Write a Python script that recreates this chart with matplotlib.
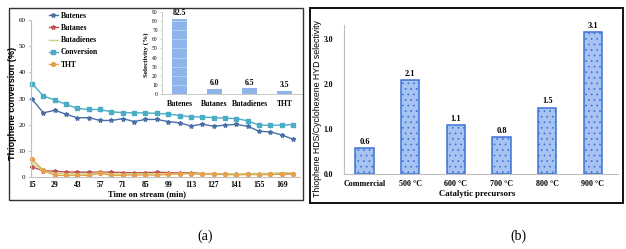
import matplotlib
matplotlib.use("Agg")
import matplotlib.pyplot as plt
from matplotlib.patches import Rectangle

# ---------------- data ----------------
time_min = [15, 22, 29, 36, 43, 50, 57, 64, 71, 78, 85, 92, 99, 106, 113, 120,
            127, 134, 141, 148, 155, 162, 169, 176]
time_ticks = [15, 29, 43, 57, 71, 85, 99, 113, 127, 141, 155, 169]
butenes = [29.8, 24.5, 25.5, 24.0, 22.6, 22.7, 21.6, 21.6, 22.3, 21.2, 22.0, 22.0,
           21.2, 20.7, 19.5, 20.2, 19.4, 19.8, 20.1, 19.4, 17.5, 17.2, 16.1, 14.4]
butanes = [3.8, 2.4, 2.2, 1.9, 1.9, 1.8, 1.9, 1.8, 1.7, 1.6, 1.7, 1.8,
           1.7, 1.5, 1.7, 1.3, 1.3, 1.2, 1.2, 1.1, 1.0, 1.0, 1.1, 1.2]
butadienes = [5.2, 2.3, 1.4, 1.3, 1.2, 1.2, 1.6, 1.2, 1.1, 1.2, 1.2, 1.3,
              1.2, 1.3, 1.4, 1.2, 1.3, 1.2, 1.3, 1.3, 1.4, 1.4, 1.7, 1.6]
conversion = [35.7, 31.0, 29.4, 27.8, 26.2, 25.8, 25.8, 24.9, 24.6, 24.5, 24.5, 24.3,
              24.1, 23.5, 23.0, 22.9, 22.7, 22.5, 22.3, 21.5, 19.8, 19.8, 19.8, 20.0]
tht = [6.8, 2.5, 0.7, 0.6, 0.7, 0.6, 1.5, 0.6, 0.7, 0.8, 0.8, 0.7,
       1.0, 1.2, 1.3, 1.0, 1.2, 1.0, 0.8, 1.0, 0.9, 1.0, 1.1, 1.2]

sel_products = ["Butenes", "Butanes", "Butadienes", "THT"]
sel_values = [82.5, 6.0, 6.5, 3.5]
sel_labels = ["82.5", "6.0", "6.5", "3.5"]

precursors = ["Commercial", "500 °C", "600 °C", "700 °C", "800 °C", "900 °C"]
ratio_values = [0.57, 2.08, 1.08, 0.81, 1.47, 3.15]
ratio_labels = ["0.6", "2.1", "1.1", "0.8", "1.5", "3.1"]

# ---------------- figure ----------------
plt.rcParams["hatch.color"] = "#c4d6f5"
plt.rcParams["hatch.linewidth"] = 0.5

W, H = 626, 249
fig = plt.figure(figsize=(W / 100, H / 100), dpi=100)
fig.patch.set_facecolor("white")

def rect(x0, y0, x1, y1):
    """pixel box (top-left origin) -> figure fraction rect"""
    return [x0 / W, 1 - y1 / H, (x1 - x0) / W, (y1 - y0) / H]

SERIF = ["Liberation Serif", "DejaVu Serif"]
SANS = ["Liberation Sans", "DejaVu Sans"]
GRAY = "#bfbfbf"

# frames
fig.add_artist(Rectangle((9 / W, 1 - 200 / H), (303 - 9) / W, (200 - 8) / H,
                         transform=fig.transFigure, fill=False, ec="#333333", lw=1.0))
fig.add_artist(Rectangle((310 / W, 1 - 203 / H), (623 - 310) / W, (203 - 8) / H,
                         transform=fig.transFigure, fill=False, ec="#111111", lw=1.4))

# ---------------- left main axes ----------------
ax = fig.add_axes(rect(31, 20, 300, 177))
ax.set_facecolor("none")
ax.plot(time_min, butenes, color="#4a6fa5", lw=1.0, marker="*", ms=3.2, label="Butenes", clip_on=False)
ax.plot(time_min, butanes, color="#c0504d", lw=1.0, marker="*", ms=3.2, label="Butanes", clip_on=False)
ax.plot(time_min, butadienes, color="#c6d98c", lw=1.0, marker="_", ms=3.5, label="Butadienes", clip_on=False)
ax.plot(time_min, conversion, color="#4bacc6", lw=1.0, marker="s", ms=3.2, label="Conversion", clip_on=False)
ax.plot(time_min, tht, color="#e6a04a", lw=1.0, marker="o", ms=2.8, label="THT", clip_on=False)
ax.set_xlim(14.4, 180.3)
ax.set_ylim(0, 60)
ax.set_yticks(range(0, 61, 10))
ax.set_xticks(time_ticks)
for s in ["top", "right"]:
    ax.spines[s].set_visible(False)
for s in ["left", "bottom"]:
    ax.spines[s].set_color(GRAY)
    ax.spines[s].set_linewidth(0.8)
ax.tick_params(axis="y", length=2, width=0.6, color=GRAY, pad=2, labelsize=5)
ax.tick_params(axis="x", length=0, pad=3, labelsize=5.5)
for t in ax.get_yticklabels():
    t.set_fontfamily(SERIF)
for t in ax.get_xticklabels():
    t.set_fontfamily(SERIF)
    t.set_fontweight("bold")
fig.text(147 / W, 1 - 194 / H, "Time on stream (min)", ha="center", va="center",
         fontsize=6, fontweight="bold", family=SERIF)
fig.text(13 / W, 1 - 103 / H, "Thiophene conversion (%)", ha="center", va="center",
         rotation=90, fontsize=6.5, fontweight="bold", family=SANS)
leg = ax.legend(loc="upper left", bbox_to_anchor=((45 - 31) / (300 - 31), 1 + 12 / 157),
                frameon=False, prop={"family": SERIF, "weight": "bold", "size": 5.5},
                handlelength=1.2, handletextpad=0.4, labelspacing=0.55, borderpad=0)

# ---------------- inset ----------------
axi = fig.add_axes(rect(162, 12, 302, 94))
axi.set_facecolor("none")
xs = range(len(sel_products))
axi.bar(xs, sel_values, width=0.45, color="#8fb4ea", edgecolor="none", zorder=2)
for yv in range(10, 90, 10):
    axi.axhline(yv, color="white", lw=0.4, alpha=0.6, zorder=3)
for x, v, lab in zip(xs, sel_values, sel_labels):
    axi.text(x, v + 1.5, lab, ha="center", va="bottom", fontsize=5.5,
             fontweight="bold", family=SERIF)
axi.set_xlim(-0.5, 3.5)
axi.set_ylim(0, 90)
axi.set_yticks(range(0, 91, 10))
axi.set_xticks(list(xs))
axi.set_xticklabels(sel_products)
for s in ["top", "right"]:
    axi.spines[s].set_visible(False)
for s in ["left", "bottom"]:
    axi.spines[s].set_color(GRAY)
    axi.spines[s].set_linewidth(0.6)
axi.tick_params(axis="y", length=1.5, width=0.5, color=GRAY, pad=1.5, labelsize=4)
axi.tick_params(axis="x", length=0, pad=4, labelsize=5.5)
for t in axi.get_yticklabels():
    t.set_fontfamily(SERIF)
for t in axi.get_xticklabels():
    t.set_fontfamily(SERIF)
    t.set_fontweight("bold")
fig.text(146 / W, 1 - 55 / H, "Selectivity (%)", ha="center", va="center",
         rotation=90, fontsize=5, fontweight="bold", family=SERIF)

# ---------------- right axes ----------------
axr = fig.add_axes(rect(344, 25, 618, 174))
axr.set_facecolor("none")
xr = range(len(precursors))
axr.bar(xr, ratio_values, width=0.4, color="#a6c3f2", edgecolor="#3d72d6",
        linewidth=1.1, hatch="...", zorder=2)
for x, v, lab in zip(xr, ratio_values, ratio_labels):
    axr.text(x, v + 0.05, lab, ha="center", va="bottom", fontsize=6,
             fontweight="bold", family=SERIF)
axr.set_xlim(-0.45, 5.55)
axr.set_ylim(0, 3.3)
axr.set_yticks([0, 1, 2, 3])
axr.set_yticklabels(["0.0", "1.0", "2.0", "3.0"])
axr.set_xticks(list(xr))
axr.set_xticklabels(precursors)
for s in ["top", "right"]:
    axr.spines[s].set_visible(False)
for s in ["left", "bottom"]:
    axr.spines[s].set_color(GRAY)
    axr.spines[s].set_linewidth(0.8)
axr.tick_params(axis="y", length=0, pad=8, labelsize=5.5)
axr.tick_params(axis="x", length=0, pad=4, labelsize=5.8)
for t in axr.get_yticklabels():
    t.set_fontfamily(SERIF)
    t.set_fontweight("bold")
for t in axr.get_xticklabels():
    t.set_fontfamily(SERIF)
    t.set_fontweight("bold")
fig.text(477 / W, 1 - 194 / H, "Catalytic precursors", ha="center", va="center",
         fontsize=6.3, fontweight="bold", family=SERIF)
fig.text(317 / W, 1 - 109 / H, "Thiophene HDS/Cyclohexene HYD selectivity",
         ha="center", va="center", rotation=90, fontsize=6.3, family=SANS)

# panel labels
fig.text(205 / W, 1 - 236 / H, "(a)", ha="center", va="center", fontsize=10, family=SERIF)
fig.text(518 / W, 1 - 236 / H, "(b)", ha="center", va="center", fontsize=10, family=SERIF)

fig.savefig("out.png", dpi=100, facecolor="white")
